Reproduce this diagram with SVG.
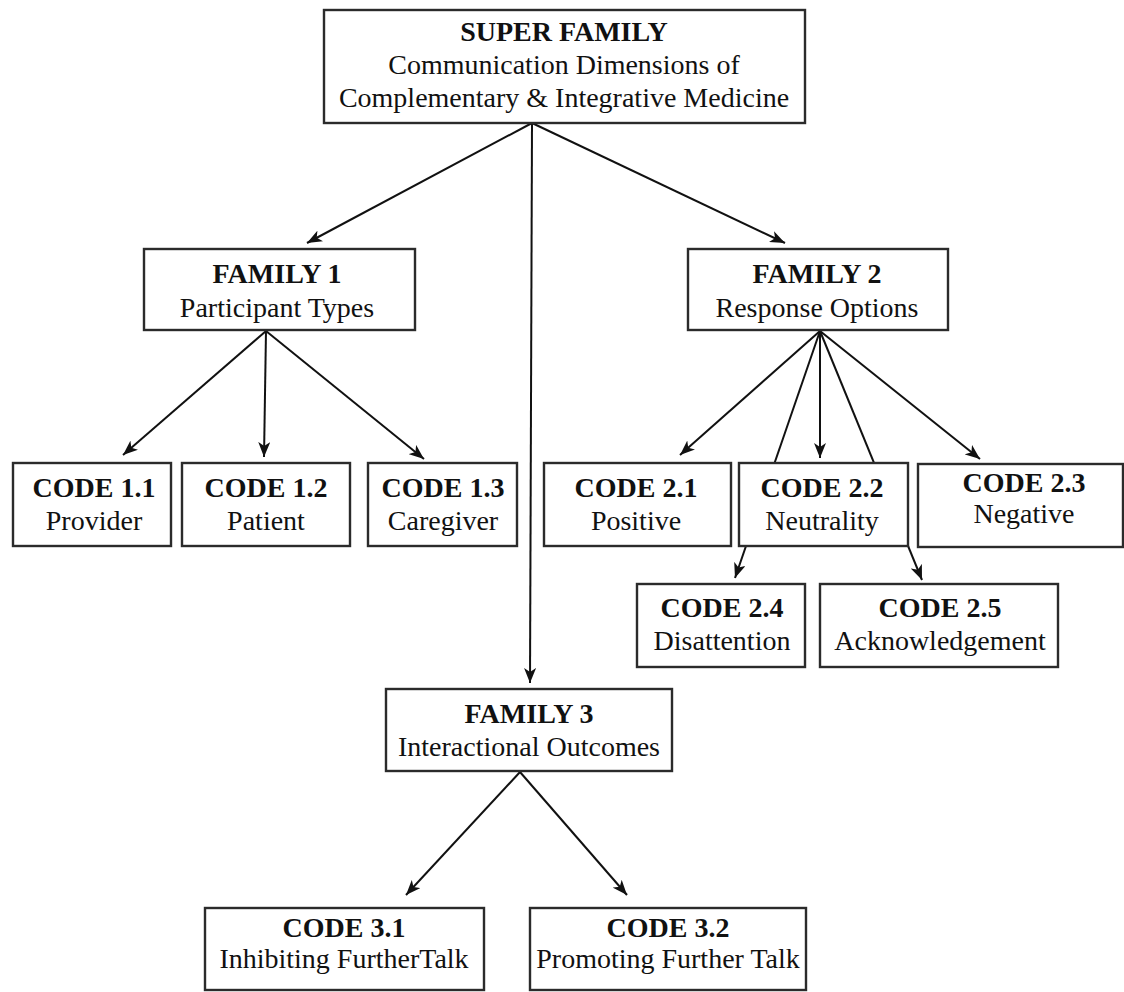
<svg xmlns="http://www.w3.org/2000/svg" width="1124" height="992" viewBox="0 0 1124 992">
<defs>
<style>
.box{fill:#fff;stroke:#2b2b2b;stroke-width:2.4}
.ln{stroke:#111;stroke-width:2;fill:none}
.arr{marker-end:url(#ah)}
text{font-family:"Liberation Serif","Times New Roman",serif;fill:#111;text-anchor:middle}
.b{font-weight:bold;font-size:28px}
.r{font-size:28px}
</style>
<marker id="ah" markerUnits="userSpaceOnUse" markerWidth="16" markerHeight="12" refX="15" refY="6" orient="auto">
<path d="M0,0 L15,6 L0,12 L4,6 z" fill="#111"/>
</marker>
</defs>
<rect width="1124" height="992" fill="#fff"/>
<g id="connectors">
<line class="ln arr" x1="532" y1="123" x2="307" y2="243"/>
<line class="ln arr" x1="532" y1="123" x2="785" y2="243"/>
<line class="ln arr" x1="532" y1="123" x2="530" y2="683"/>
<line class="ln arr" x1="266" y1="331" x2="123" y2="455"/>
<line class="ln arr" x1="266" y1="331" x2="264" y2="457"/>
<line class="ln arr" x1="266" y1="331" x2="424" y2="459"/>
<line class="ln arr" x1="820" y1="331" x2="680" y2="455"/>
<line class="ln arr" x1="820" y1="331" x2="735" y2="578"/>
<line class="ln arr" x1="820" y1="331" x2="820" y2="458"/>
<line class="ln arr" x1="820" y1="331" x2="922" y2="580"/>
<line class="ln arr" x1="820" y1="331" x2="980" y2="459"/>
<line class="ln arr" x1="520" y1="772" x2="406" y2="895"/>
<line class="ln arr" x1="520" y1="772" x2="627" y2="895"/>
</g>
<g id="super-family">
<rect class="box" x="324" y="10" width="481" height="113"/>
<text class="b" x="564" y="41">SUPER FAMILY</text>
<text class="r" x="564" y="74">Communication Dimensions of</text>
<text class="r" x="564" y="107">Complementary &amp; Integrative Medicine</text>
</g>
<g id="family-1">
<rect class="box" x="144" y="249" width="271" height="81"/>
<text class="b" x="277" y="283">FAMILY 1</text>
<text class="r" x="277" y="317">Participant Types</text>
</g>
<g id="family-2">
<rect class="box" x="688" y="249" width="260" height="81"/>
<text class="b" x="817" y="283">FAMILY 2</text>
<text class="r" x="817" y="317">Response Options</text>
</g>
<g id="code-1-1">
<rect class="box" x="13" y="463" width="158" height="83"/>
<text class="b" x="94" y="497">CODE 1.1</text>
<text class="r" x="94" y="530">Provider</text>
</g>
<g id="code-1-2">
<rect class="box" x="182" y="463" width="168" height="83"/>
<text class="b" x="266" y="497">CODE 1.2</text>
<text class="r" x="266" y="530">Patient</text>
</g>
<g id="code-1-3">
<rect class="box" x="368" y="463" width="149" height="83"/>
<text class="b" x="443" y="497">CODE 1.3</text>
<text class="r" x="443" y="530">Caregiver</text>
</g>
<g id="code-2-1">
<rect class="box" x="544" y="463" width="187" height="83"/>
<text class="b" x="636" y="497">CODE 2.1</text>
<text class="r" x="636" y="530">Positive</text>
</g>
<g id="code-2-2">
<rect class="box" x="739" y="463" width="169" height="83"/>
<text class="b" x="822" y="497">CODE 2.2</text>
<text class="r" x="822" y="530">Neutrality</text>
</g>
<g id="code-2-3">
<rect class="box" x="918" y="464" width="205" height="83"/>
<text class="b" x="1024" y="492">CODE 2.3</text>
<text class="r" x="1024" y="523">Negative</text>
</g>
<g id="code-2-4">
<rect class="box" x="637" y="584" width="168" height="83"/>
<text class="b" x="722" y="617">CODE 2.4</text>
<text class="r" x="722" y="650">Disattention</text>
</g>
<g id="code-2-5">
<rect class="box" x="820" y="584" width="238" height="83"/>
<text class="b" x="940" y="617">CODE 2.5</text>
<text class="r" x="940" y="650">Acknowledgement</text>
</g>
<g id="family-3">
<rect class="box" x="386" y="689" width="286" height="82"/>
<text class="b" x="529" y="723">FAMILY 3</text>
<text class="r" x="529" y="756">Interactional Outcomes</text>
</g>
<g id="code-3-1">
<rect class="box" x="205" y="908" width="279" height="82"/>
<text class="b" x="344" y="937">CODE 3.1</text>
<text class="r" x="344" y="968">Inhibiting FurtherTalk</text>
</g>
<g id="code-3-2">
<rect class="box" x="530" y="908" width="276" height="82"/>
<text class="b" x="668" y="937">CODE 3.2</text>
<text class="r" x="668" y="968">Promoting Further Talk</text>
</g>
</svg>
